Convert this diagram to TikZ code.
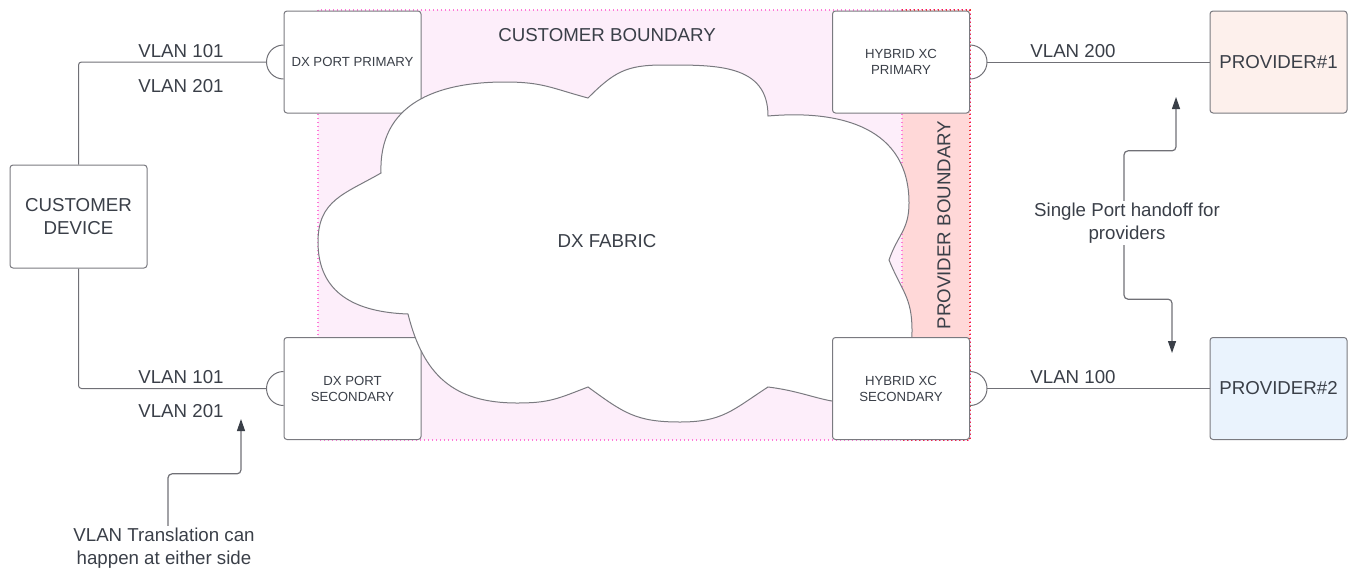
\documentclass[tikz,border=0pt]{standalone}
\usepackage{fontspec}
\setmainfont{Liberation Sans}
\usetikzlibrary{arrows.meta}

\definecolor{txtgray}{RGB}{58,63,72}
\definecolor{boxgray}{RGB}{122,122,128}
\definecolor{wiregray}{RGB}{112,112,118}
\definecolor{custfill}{RGB}{253,238,250}
\definecolor{custline}{RGB}{255,120,215}
\definecolor{provfill}{RGB}{255,216,216}
\definecolor{provline}{RGB}{240,50,50}
\definecolor{provafill}{RGB}{253,240,236}
\definecolor{provbfill}{RGB}{234,243,253}

\newcommand{\bigtxt}{\fontsize{18.7}{22.5}\selectfont}
\newcommand{\smalltxt}{\fontsize{13.2}{16}\selectfont}

\tikzset{
  basebox/.style={draw=boxgray, line width=1pt, rounded corners=3pt, fill=white,
    minimum width=137pt, minimum height=102pt, inner sep=0pt, align=center, text=txtgray},
  portbox/.style={basebox, font=\smalltxt},
  devbox/.style={basebox, font=\bigtxt},
  wire/.style={draw=wiregray, line width=1pt, rounded corners=3pt},
  vlanlbl/.style={font=\bigtxt, text=txtgray, inner sep=0pt},
  notetxt/.style={font=\bigtxt, text=txtgray, align=center, inner sep=2pt},
  notearrow/.style={draw=wiregray, line width=1.2pt, rounded corners=4pt,
    -{Triangle[length=12pt,width=8pt,color=txtgray]}},
  custdot/.style={draw=custline, line width=1.4pt, dash pattern=on 1.4pt off 2.6pt},
  provdot/.style={draw=provline, line width=1.4pt, dash pattern=on 1.4pt off 2.6pt},
}

\begin{document}
\begin{tikzpicture}[x=1pt, y=1pt]
  \useasboundingbox (0,0) rectangle (1348,-571);

  % boundaries
  \fill[custfill] (318,-10) rectangle (970,-440);
  \draw[custdot] (318,-10) rectangle (970,-440);
  \fill[provfill] (902,-10) rectangle (970,-440);
  \draw[custdot] (902,-10) -- (902,-440);
  \draw[provdot] (902,-10) -- (970,-10) -- (970,-440) -- (902,-440);
  \node[vlanlbl] (custzone) at (607,-35) {CUSTOMER BOUNDARY};

  % dx ports
  \node[portbox] (dxpri) at (352.5,-62) {DX PORT PRIMARY};
  \node[portbox] (dxsec) at (352.5,-388.5) {DX PORT\\SECONDARY};

  % fabric cloud
  \draw[draw=boxgray, line width=1pt, fill=white, looseness=1.15]
    (408,-314) to[out=178,in=-90] (318,-242) to[out=90,in=210] (381,-173)
    to[out=92,in=180] (505,-82) to[out=0,in=165] (588,-98)
    to[out=45,in=180] (663,-65) to[out=0,in=90] (768,-116)
    to[out=5,in=90] (909,-203) to[out=-90,in=71] (889,-260)
    to[out=-68,in=90] (912,-330) to[out=-90,in=50] (885,-395)
    to[out=-160,in=-7] (768,-387)
    to[out=213,in=0] (680,-422) to[out=180,in=-36] (588,-387)
    to[out=201,in=0] (517,-403) to[out=180,in=-76] (408,-314) -- cycle;
  \node[vlanlbl] (fabric) at (607,-241) {DX FABRIC};

  % hybrid cross connects
  \node[portbox] (hxpri) at (901,-62) {HYBRID XC\\PRIMARY};
  \node[portbox] (hxsec) at (901,-388.5) {HYBRID XC\\SECONDARY};
  \node[vlanlbl, rotate=90] (provzone) at (944,-225) {PROVIDER BOUNDARY};

  % end devices
  \node[devbox, minimum height=103pt] (cust) at (78.5,-216.5) {CUSTOMER\\DEVICE};
  \node[devbox, fill=provafill] (prova) at (1278.5,-62) {PROVIDER\#1};
  \node[devbox, fill=provbfill] (provb) at (1278.5,-388.5) {PROVIDER\#2};

  % port symbols
  \draw[wire] ([yshift=17pt]dxpri.west) arc[start angle=90, end angle=270, radius=17pt];
  \draw[wire] ([yshift=17pt]dxsec.west) arc[start angle=90, end angle=270, radius=17pt];
  \draw[wire] ([yshift=17pt]hxpri.east) arc[start angle=90, end angle=-90, radius=17pt];
  \draw[wire] ([yshift=17pt]hxsec.east) arc[start angle=90, end angle=-90, radius=17pt];
  \coordinate (dxpriport) at ([xshift=-17pt]dxpri.west);
  \coordinate (dxsecport) at ([xshift=-17pt]dxsec.west);
  \coordinate (hxpriport) at ([xshift=17pt]hxpri.east);
  \coordinate (hxsecport) at ([xshift=17pt]hxsec.east);

  % links
  \draw[wire] (cust.north) |- (dxpriport);
  \draw[wire] (cust.south) |- (dxsecport);
  \draw[wire] (hxpriport) -- (prova.west);
  \draw[wire] (hxsecport) -- (provb.west);

  \node[vlanlbl] (vlanpa) at (181,-51) {VLAN 101};
  \node[vlanlbl] (vlanpb) at (181,-86) {VLAN 201};
  \node[vlanlbl] (vlansa) at (181,-377) {VLAN 101};
  \node[vlanlbl] (vlansb) at (181,-411.5) {VLAN 201};
  \node[vlanlbl] (vlanpc) at (1073,-51) {VLAN 200};
  \node[vlanlbl] (vlansc) at (1073,-377) {VLAN 100};

  % notes
  \node[notetxt] (transnote) at (164,-548) {VLAN Translation can\\happen at either side};
  \coordinate (transtip) at (241,-419);
  \draw[notearrow] ([xshift=4pt]transnote.north) -- ++(0,52) -| (transtip);

  \node[notetxt] (handoff) at (1127,-223) {Single Port handoff for\\providers};
  \coordinate (handofftipa) at (1176,-97);
  \coordinate (handofftipb) at (1172,-353);
  \draw[notearrow] ([xshift=-3pt]handoff.north) -- ++(0,50) -| (handofftipa);
  \draw[notearrow] ([xshift=-3pt]handoff.south) -- ++(0,-54) -| (handofftipb);
\end{tikzpicture}
\end{document}
